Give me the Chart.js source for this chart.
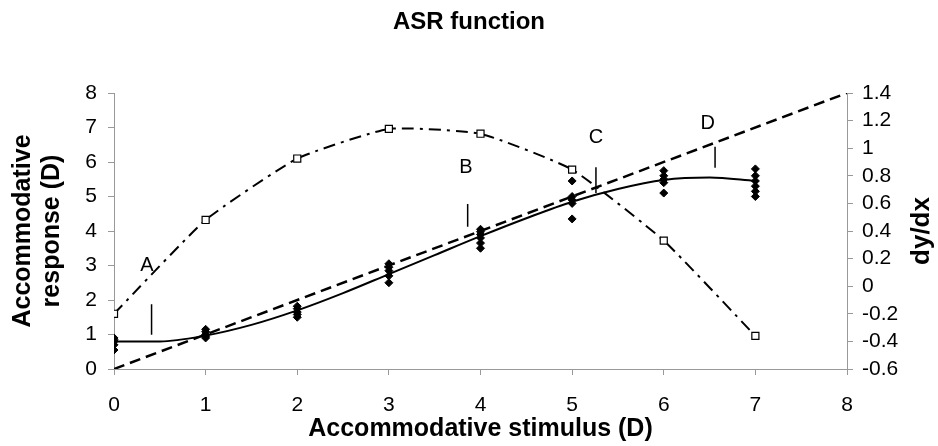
<!DOCTYPE html>
<html>
<head>
<meta charset="utf-8">
<script src="https://cdn.jsdelivr.net/npm/chart.js@4"></script>
<style>
  html, body { margin: 0; padding: 0; background: #fff; }
  #wrap { width: 938px; height: 446px; }
</style>
</head>
<body>
<div id="wrap"><canvas id="asrChart" width="938" height="446"></canvas></div>
<script>
// measured responses (diamonds)
const stimX = [0,0,0,0,0, 1,1,1,1,1, 2,2,2,2,2, 3,3,3,3,3, 4,4,4,4,4,4, 5,5,5,5,5, 6,6,6,6,6, 7,7,7,7,7,7];
const respY = [0.55,0.7,0.8,0.85,0.9, 0.9,0.95,1.0,1.08,1.15, 1.5,1.58,1.65,1.75,1.82, 2.5,2.7,2.85,2.95,3.05,
               3.5,3.65,3.8,3.9,3.98,4.05, 4.35,4.8,4.9,5.0,5.45, 5.1,5.4,5.5,5.6,5.75, 5.0,5.15,5.3,5.45,5.6,5.8];

// fitted ASR curve
const fitX = [0, 0.5, 1, 1.5, 2, 2.5, 3, 3.5, 4, 4.5, 5, 5.5, 6, 6.5, 7];
const fitY = [0.8, 0.8, 0.97, 1.28, 1.7, 2.2, 2.75, 3.3, 3.85, 4.37, 4.85, 5.22, 5.48, 5.55, 5.45];

// unity line
const unityX = [0, 8];
const unityY = [0, 8];

// slope dy/dx (right axis)
const slopeX = [0, 1, 2, 3, 4, 5, 6, 7];
const slopeY = [-0.2, 0.48, 0.925, 1.14, 1.105, 0.845, 0.33, -0.36];

// region markers A-D
const markLabels = ['A', 'B', 'C', 'D'];
const markX = [0.41, 3.86, 5.26, 6.56];
const markLo = [0.99, 4.12, 5.1, 5.83];
const markHi = [1.88, 4.78, 5.85, 6.44];
const labelX = [0.36, 3.84, 5.26, 6.48];
const labelY = [3.0, 5.83, 6.72, 7.13];

const fontFam = '"Liberation Sans", Arial, sans-serif';

const markerPts = [];
markX.forEach((x, i) => {
  markerPts.push({x: x, y: markLo[i]}, {x: x, y: markHi[i]}, {x: x, y: NaN});
});

// letters A-D and the right axis title (reads bottom to top, like the left one)
const textPlugin = {
  id: 'extraText',
  afterDatasetsDraw(chart) {
    const ctx = chart.ctx;
    const xs = chart.scales.x, ys = chart.scales.y, y2 = chart.scales.y2;
    ctx.save();
    ctx.fillStyle = '#000';
    ctx.font = '20px ' + fontFam;
    ctx.textAlign = 'center';
    ctx.textBaseline = 'middle';
    markLabels.forEach((t, i) => {
      ctx.fillText(t, xs.getPixelForValue(labelX[i]), ys.getPixelForValue(labelY[i]));
    });
    ctx.translate(y2.right - 16, (y2.top + y2.bottom) / 2);
    ctx.rotate(-Math.PI / 2);
    ctx.font = 'bold 26px ' + fontFam;
    ctx.fillText('dy/dx', 0, 0);
    ctx.restore();
  }
};

const gridOpts = { drawOnChartArea: false, color: '#999', tickLength: 6 };
const tickFont = { family: fontFam, size: 21 };

const config = {
  type: 'scatter',
  data: {
    datasets: [
      {
        label: 'response',
        data: stimX.map((x, i) => ({x: x, y: respY[i]})),
        pointStyle: 'rectRot',
        pointRadius: 4,
        backgroundColor: '#000',
        borderColor: '#000',
        showLine: false
      },
      {
        label: 'fit',
        data: fitX.map((x, i) => ({x: x, y: fitY[i]})),
        showLine: true,
        tension: 0.4,
        cubicInterpolationMode: 'monotone',
        pointRadius: 0,
        borderColor: '#000',
        borderWidth: 2
      },
      {
        label: 'unity',
        data: unityX.map((x, i) => ({x: x, y: unityY[i]})),
        showLine: true,
        pointRadius: 0,
        borderColor: '#000',
        borderWidth: 2.5,
        borderDash: [11, 6]
      },
      {
        label: 'dy/dx',
        yAxisID: 'y2',
        data: slopeX.map((x, i) => ({x: x, y: slopeY[i]})),
        showLine: true,
        tension: 0.15,
        borderColor: '#000',
        borderWidth: 2,
        borderDash: [12, 6, 3, 6],
        pointStyle: 'rect',
        pointRadius: 5,
        pointBackgroundColor: '#fff',
        pointBorderColor: '#000',
        pointBorderWidth: 1.2
      },
      {
        label: 'markers',
        data: markerPts,
        showLine: true,
        spanGaps: false,
        pointRadius: 0,
        borderColor: '#000',
        borderWidth: 1.5
      }
    ]
  },
  options: {
    responsive: false,
    animation: false,
    layout: { padding: 0 },
    plugins: {
      legend: { display: false },
      tooltip: { enabled: false },
      title: {
        display: true,
        text: 'ASR function',
        color: '#000',
        font: { family: fontFam, size: 24, weight: 'bold', lineHeight: 1.2 },
        padding: { top: 8, bottom: 56.2 }
      }
    },
    scales: {
      x: {
        type: 'linear',
        min: 0, max: 8,
        ticks: { stepSize: 1, autoSkip: false, color: '#000', font: tickFont, padding: 18 },
        grid: gridOpts,
        border: { color: '#999', width: 1 },
        title: { display: true, text: 'Accommodative stimulus (D)', color: '#000',
                 font: { family: fontFam, size: 25, weight: 'bold' }, padding: { top: 0, bottom: 2 } },
        afterFit(s) { s.height = 77; }
      },
      y: {
        position: 'left',
        min: 0, max: 8,
        ticks: { stepSize: 1, autoSkip: false, color: '#000', font: tickFont, padding: 11 },
        grid: gridOpts,
        border: { color: '#999', width: 1 },
        title: { display: true, text: ['Accommodative', 'response (D)'], color: '#000',
                 font: { family: fontFam, size: 25, weight: 'bold', lineHeight: 1.17 },
                 padding: { top: 8, bottom: 0 } },
        afterFit(s) { s.width = 114; }
      },
      y2: {
        position: 'right',
        min: -0.6, max: 1.4,
        ticks: { stepSize: 0.2, autoSkip: false, color: '#000', font: tickFont, padding: 9,
                 callback: v => Math.round(v * 10) / 10 },
        grid: gridOpts,
        border: { color: '#999', width: 1 },
        afterFit(s) { s.width = 91; }
      }
    }
  },
  plugins: [textPlugin]
};

var ctx = document.getElementById('asrChart').getContext('2d');
var asrChart = new Chart(ctx, config);
</script>
</body>
</html>
